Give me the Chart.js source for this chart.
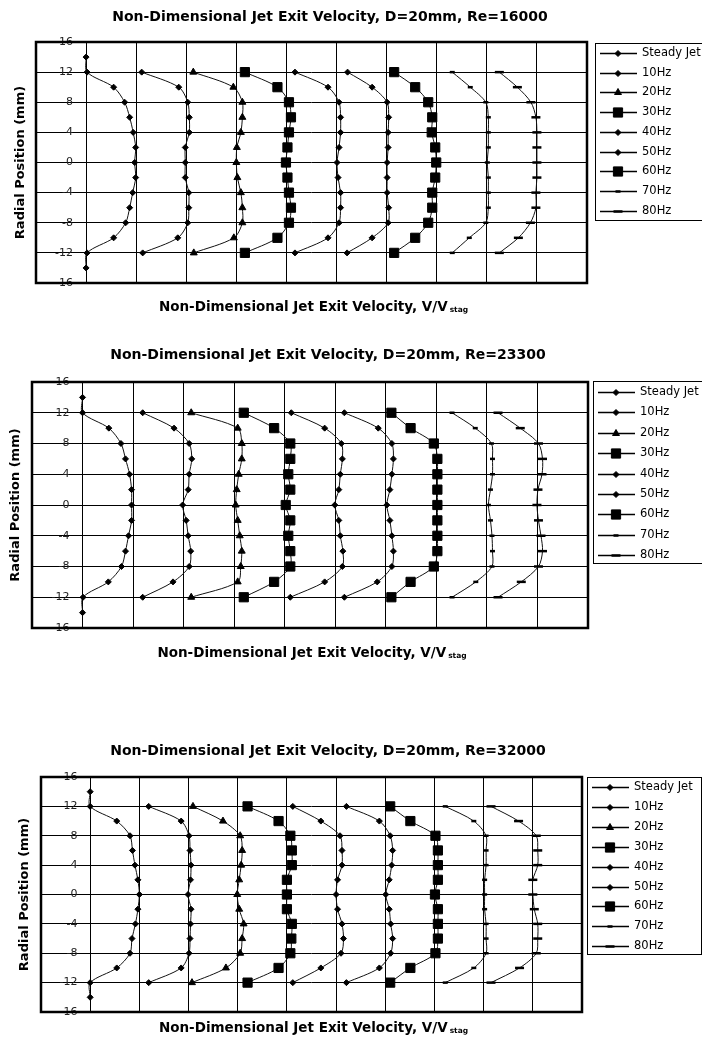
<!DOCTYPE html>
<html>
<head>
<meta charset="utf-8">
<script src="https://cdn.jsdelivr.net/npm/chart.js@4.4.1/dist/chart.umd.min.js"></script>
<style>
  body { margin: 0; background: #fff; }
  canvas { display: block; }
</style>
</head>
<body>
<canvas id="c1" width="702" height="330"></canvas>
<canvas id="c2" width="702" height="350"></canvas>
<canvas id="c3" width="702" height="366"></canvas>
<script>
// radial positions (mm); the steady jet was also measured at +/-14
const radialSteady = [14, 12, 10, 8, 6, 4, 2, 0, -2, -4, -6, -8, -10, -12, -14];
const radial = [12, 10, 8, 6, 4, 2, 0, -2, -4, -6, -8, -10, -12];
const seriesNames = ['Steady Jet', '10Hz', '20Hz', '30Hz', '40Hz', '50Hz', '60Hz', '70Hz', '80Hz'];
// every profile is shifted one grid division to the right of the previous one
const profileOffsets = [0, 1, 2, 3, 4, 5, 6, 7, 8];
const reynolds = ['16000', '23300', '32000'];
const yTicks = [-16, -12, -8, -4, 0, 4, 8, 12, 16];

// V/Vstag, one row per series, top (+12) to bottom (-12)
const vel16000 = [
  [0, 0.02, 0.55, 0.77, 0.87, 0.94, 0.99, 0.97, 0.99, 0.93, 0.87, 0.79, 0.55, 0.02, 0],
  [0.11, 0.85, 1.03, 1.06, 1.06, 0.98, 0.98, 0.98, 1.05, 1.05, 1.03, 0.83, 0.13],
  [0.14, 0.94, 1.12, 1.12, 1.09, 1.01, 1.00, 1.02, 1.09, 1.12, 1.12, 0.95, 0.15],
  [0.17, 0.82, 1.05, 1.09, 1.05, 1.02, 0.99, 1.02, 1.05, 1.09, 1.05, 0.82, 0.17],
  [0.17, 0.83, 1.05, 1.08, 1.08, 1.05, 1.01, 1.03, 1.08, 1.08, 1.05, 0.83, 0.17],
  [0.22, 0.71, 1.01, 1.04, 1.03, 1.03, 1.01, 1.01, 1.01, 1.04, 1.03, 0.71, 0.21],
  [0.15, 0.57, 0.83, 0.91, 0.90, 0.97, 0.99, 0.97, 0.91, 0.91, 0.83, 0.57, 0.15],
  [0.31, 0.67, 0.98, 1.03, 1.03, 1.03, 1.01, 1.03, 1.03, 1.03, 0.98, 0.65, 0.31],
  [0.25, 0.61, 0.88, 0.98, 1.00, 1.00, 1.00, 1.00, 0.98, 0.98, 0.87, 0.63, 0.25]
];
const vel23300 = [
  [0, 0, 0.52, 0.76, 0.85, 0.93, 0.97, 0.97, 0.97, 0.91, 0.85, 0.77, 0.51, 0.01, 0],
  [0.19, 0.81, 1.11, 1.16, 1.11, 1.09, 0.98, 1.05, 1.09, 1.14, 1.11, 0.79, 0.19],
  [0.15, 1.07, 1.15, 1.15, 1.09, 1.05, 1.03, 1.07, 1.11, 1.15, 1.13, 1.07, 0.15],
  [0.19, 0.79, 1.11, 1.11, 1.07, 1.11, 1.02, 1.11, 1.07, 1.11, 1.11, 0.79, 0.19],
  [0.13, 0.79, 1.12, 1.14, 1.10, 1.07, 0.99, 1.07, 1.10, 1.15, 1.14, 0.79, 0.11],
  [0.18, 0.85, 1.12, 1.15, 1.12, 1.08, 1.02, 1.08, 1.12, 1.15, 1.12, 0.83, 0.18],
  [0.11, 0.49, 0.95, 1.02, 1.02, 1.02, 1.02, 1.02, 1.02, 1.02, 0.95, 0.49, 0.11],
  [0.31, 0.77, 1.09, 1.11, 1.11, 1.07, 1.03, 1.07, 1.10, 1.11, 1.10, 0.78, 0.31],
  [0.22, 0.66, 1.02, 1.10, 1.09, 1.01, 0.99, 1.02, 1.07, 1.10, 1.02, 0.68, 0.22]
];
const vel32000 = [
  [0, 0, 0.54, 0.81, 0.86, 0.91, 0.97, 1.00, 0.97, 0.92, 0.85, 0.81, 0.54, 0, 0],
  [0.19, 0.85, 1.01, 1.03, 1.05, 1.04, 0.99, 1.05, 1.04, 1.03, 1.01, 0.85, 0.19],
  [0.09, 0.70, 1.05, 1.09, 1.07, 1.03, 0.99, 1.03, 1.12, 1.09, 1.05, 0.76, 0.07],
  [0.20, 0.83, 1.07, 1.10, 1.10, 1.00, 1.00, 1.00, 1.10, 1.09, 1.07, 0.83, 0.20],
  [0.12, 0.69, 1.08, 1.12, 1.12, 1.03, 1.00, 1.03, 1.12, 1.15, 1.10, 0.69, 0.12],
  [0.21, 0.88, 1.10, 1.15, 1.13, 1.08, 1.01, 1.08, 1.11, 1.15, 1.11, 0.88, 0.21],
  [0.10, 0.51, 1.02, 1.07, 1.07, 1.07, 1.01, 1.07, 1.07, 1.07, 1.02, 0.51, 0.10],
  [0.22, 0.80, 1.05, 1.05, 1.05, 1.02, 1.02, 1.02, 1.05, 1.05, 1.05, 0.80, 0.22],
  [0.15, 0.71, 1.07, 1.10, 1.10, 1.00, 1.00, 1.03, 1.10, 1.10, 1.07, 0.73, 0.15]
];

const FONT = '"DejaVu Sans", Verdana, sans-serif';

const markers = [
  {style: 'rectRot', r: 3, bw: 1},
  {style: 'rectRot', r: 3, bw: 1},
  {style: 'triangle', r: 4, bw: 1},
  {style: 'rect', r: 6.5, bw: 1},
  {style: 'rectRot', r: 3, bw: 1},
  {style: 'rectRot', r: 3, bw: 1},
  {style: 'rect', r: 6.5, bw: 1},
  {style: 'line', r: 2.5, bw: 2.5},
  {style: 'line', r: 4.5, bw: 2.5}
];

const sections = [
  {id: 'c1', vel: vel16000, pad: {left: 36, right: 115, top: 42, bottom: 47},
   titleX: 330, titleY: 17, xTitleY: 307, yTitleX: 21,
   legend: {x: 595, y: 43, w: 112, h: 177, row0: 53, step: 19.7}},
  {id: 'c2', vel: vel23300, pad: {left: 32, right: 114, top: 52, bottom: 52},
   titleX: 328, titleY: 25, xTitleY: 323, yTitleX: 16,
   legend: {x: 593, y: 51, w: 112, h: 182, row0: 62, step: 20.4}},
  {id: 'c3', vel: vel32000, pad: {left: 41, right: 120, top: 97, bottom: 34},
   titleX: 328, titleY: 71, xTitleY: 348, yTitleX: 25,
   legend: {x: 587, y: 97, w: 114, h: 177, row0: 107, step: 19.9}}
];

function makeDatasets(vel) {
  return seriesNames.map((name, i) => {
    const ys = i === 0 ? radialSteady : radial;
    return {
      label: name,
      data: ys.map((r, j) => ({x: profileOffsets[i] + vel[i][j], y: r})),
      showLine: true,
      borderColor: '#111',
      borderWidth: 1,
      tension: 0.3,
      backgroundColor: '#000',
      pointBorderColor: '#000',
      pointBackgroundColor: '#000',
      pointStyle: markers[i].style,
      pointRadius: markers[i].r,
      pointBorderWidth: markers[i].bw
    };
  });
}

// border, titles and the boxed legend (line + marker per entry)
const decor = {
  id: 'decor',
  afterDraw(chart, args, opts) {
    const ctx = chart.ctx;
    const a = chart.chartArea;
    ctx.save();
    ctx.strokeStyle = '#000';
    ctx.lineWidth = 2.5;
    ctx.strokeRect(a.left, a.top, a.right - a.left, a.bottom - a.top);

    ctx.fillStyle = '#000';
    ctx.textBaseline = 'middle';
    ctx.textAlign = 'center';
    ctx.font = 'bold 14px ' + FONT;
    ctx.fillText('Non-Dimensional Jet Exit Velocity, D=20mm, Re=' + opts.re, opts.titleX, opts.titleY);

    // x title with subscript
    const main = 'Non-Dimensional Jet Exit Velocity, V/V';
    ctx.font = 'bold 13.5px ' + FONT;
    const w1 = ctx.measureText(main).width;
    ctx.font = 'bold 7.5px ' + FONT;
    const w2 = ctx.measureText('stag').width;
    const x0 = (a.left + a.right) / 2 + 2 - (w1 + 2 + w2) / 2;
    ctx.textAlign = 'left';
    ctx.font = 'bold 13.5px ' + FONT;
    ctx.fillText(main, x0, opts.xTitleY);
    ctx.font = 'bold 7.5px ' + FONT;
    ctx.fillText('stag', x0 + w1 + 2, opts.xTitleY + 3);

    ctx.save();
    ctx.translate(opts.yTitleX, (a.top + a.bottom) / 2);
    ctx.rotate(-Math.PI / 2);
    ctx.textAlign = 'center';
    ctx.font = 'bold 13px ' + FONT;
    ctx.fillText('Radial Position (mm)', 0, 0);
    ctx.restore();

    const L = opts.legend;
    ctx.lineWidth = 1;
    ctx.strokeRect(L.x + 0.5, L.y + 0.5, L.w, L.h);
    ctx.font = '11.5px ' + FONT;
    ctx.textAlign = 'left';
    chart.data.datasets.forEach((ds, i) => {
      const y = Math.round(L.row0 + i * L.step) + 0.5;
      ctx.strokeStyle = '#000';
      ctx.lineWidth = 1.5;
      ctx.beginPath();
      ctx.moveTo(L.x + 5, y);
      ctx.lineTo(L.x + 42, y);
      ctx.stroke();
      ctx.lineWidth = ds.pointBorderWidth;
      ctx.fillStyle = '#000';
      Chart.helpers.drawPoint(ctx, {pointStyle: ds.pointStyle, radius: ds.pointRadius, rotation: 0, borderWidth: ds.pointBorderWidth}, L.x + 23, y);
      ctx.fillStyle = '#000';
      ctx.fillText(ds.label, L.x + 47, y);
    });
    ctx.restore();
  }
};

sections.forEach((s, k) => {
  new Chart(document.getElementById(s.id), {
    type: 'scatter',
    data: {datasets: makeDatasets(s.vel)},
    plugins: [decor],
    options: {
      responsive: false,
      animation: false,
      devicePixelRatio: 1,
      layout: {padding: s.pad},
      plugins: {
        legend: {display: false},
        title: {display: false},
        tooltip: {enabled: false},
        decor: {re: reynolds[k], titleX: s.titleX, titleY: s.titleY, xTitleY: s.xTitleY, yTitleX: s.yTitleX, legend: s.legend}
      },
      scales: {
        x: {
          type: 'linear', min: -1, max: 10,
          ticks: {display: false, stepSize: 1},
          grid: {color: '#000', lineWidth: 1, drawTicks: false},
          border: {display: false}
        },
        y: {
          type: 'linear', min: -16, max: 16,
          // labels sit just left of the first vertical grid line
          position: {x: -0.26},
          afterBuildTicks: (sc) => { sc.ticks = yTicks.map(v => ({value: v})); },
          ticks: {padding: 0, color: '#222', font: {family: FONT, size: 11}},
          grid: {color: '#000', lineWidth: 1, drawTicks: false},
          border: {display: false}
        }
      }
    }
  });
});
</script>
</body>
</html>
